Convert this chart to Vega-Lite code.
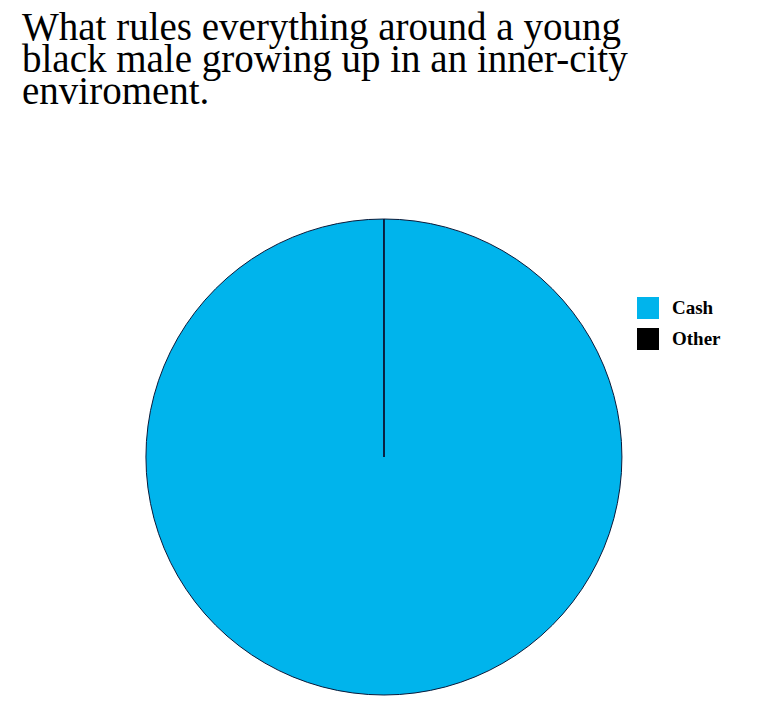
{
  "$schema": "https://vega.github.io/schema/vega-lite/v6.json",
  "width": 768,
  "height": 518,
  "padding": {"left": 0, "top": 198, "right": 0, "bottom": 0},
  "autosize": {"type": "none"},
  "background": "white",
  "config": {"view": {"stroke": null}},
  "title": {
    "text": ["What rules everything around a young", "black male growing up in an inner-city", "enviroment."],
    "anchor": "start",
    "frame": "group",
    "dx": 22,
    "offset": 86,
    "font": "'Liberation Serif', 'Times New Roman', serif",
    "fontSize": 39,
    "fontWeight": "normal",
    "lineHeight": 32,
    "color": "black"
  },
  "data": {
    "values": [
      {"category": "Cash", "value": 99.99},
      {"category": "Other", "value": 0.01}
    ]
  },
  "mark": {"type": "arc", "radius": 238, "stroke": "#0a1a3a", "strokeWidth": 1},
  "encoding": {
    "theta": {"field": "value", "type": "quantitative", "stack": true},
    "order": {"field": "category", "sort": "ascending"},
    "color": {
      "field": "category",
      "type": "nominal",
      "scale": {"domain": ["Cash", "Other"], "range": ["#00b4ec", "#000000"]},
      "legend": {
        "title": null,
        "orient": "none",
        "legendX": 637,
        "legendY": 99,
        "symbolType": "square",
        "symbolSize": 484,
        "symbolStrokeWidth": 0,
        "rowPadding": 9,
        "labelFont": "'Liberation Serif', serif",
        "labelFontSize": 19,
        "labelFontWeight": "bold",
        "labelColor": "black",
        "labelOffset": 13
      }
    }
  }
}
